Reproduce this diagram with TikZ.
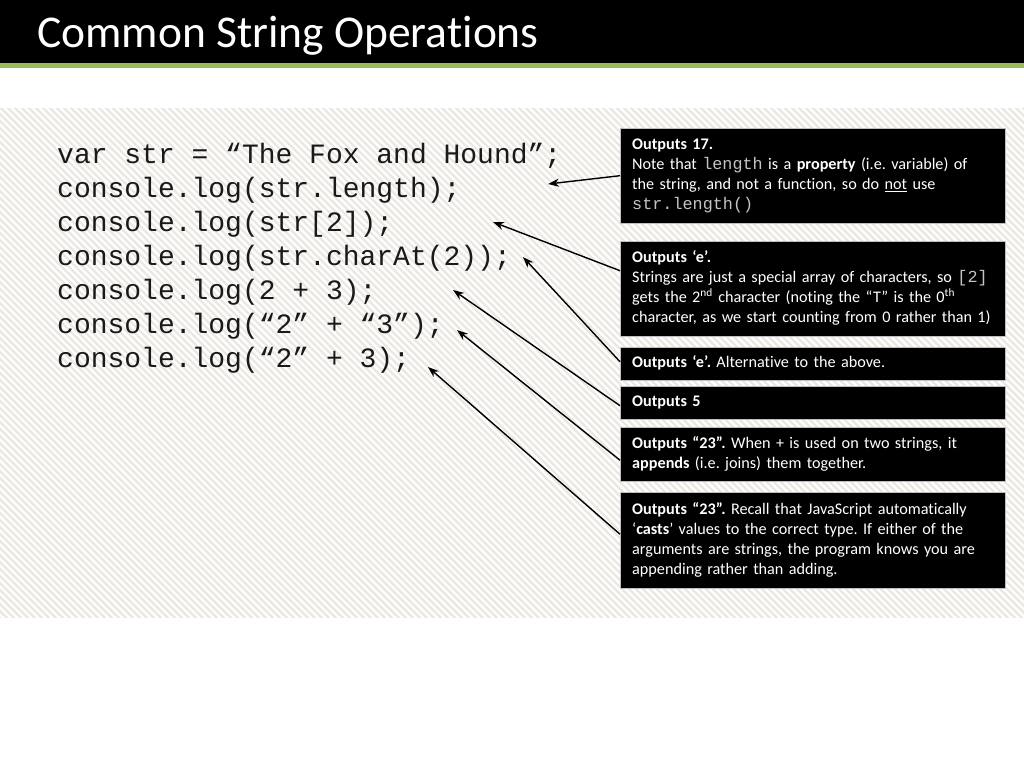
\documentclass[tikz,border=0pt]{standalone}
\usepackage{fontspec}
\setmainfont{Carlito}[Ligatures=CommonOff]
\setmonofont{Liberation Mono}
\usepackage{tikz}
\usetikzlibrary{arrows.meta,calc,positioning}
\frenchspacing

\definecolor{barGreen}{HTML}{9BBB59}
\definecolor{stripeGrey}{HTML}{EAE8E1}
\definecolor{snipGrey}{HTML}{C4C4C4}

\newcommand{\notesize}{\fontsize{16.2}{20}\selectfont}
\newcommand{\snip}[1]{{\ttfamily\fontsize{16.8}{20}\selectfont\color{snipGrey}#1}}

\tikzset{
	codeline/.style={anchor=base west, inner sep=0pt, font=\ttfamily\fontsize{28}{34}\selectfont, text=black!90},
	note/.style={fill=black, draw=black!25, text=white, anchor=north west, text width=361pt, inner xsep=12pt, inner ysep=0pt, align=left, font=\notesize},
	pointer/.style={-{Stealth[length=11pt,width=8pt]}, line width=1.4pt, black}
}

\begin{document}
\begin{tikzpicture}[x=1pt,y=-1pt]
	\useasboundingbox (0,0) rectangle (1024,768);
	\fill[white] (0,0) rectangle (1024,768);
	% title bar
	\fill[black] (0,0) rectangle (1024,63);
	\fill[barGreen] (0,63) rectangle (1024,68);
	\node[anchor=base west, inner sep=0pt, text=white, font=\fontsize{45.5}{50}\selectfont] (title) at (37,48) {Common String Operations};
	% striped panel
	\begin{scope}
		\clip (0,108) rectangle (1024,617);
		\fill[white!97!stripeGrey] (0,108) rectangle (1024,617);
		\foreach \x in {-532,-525,...,1030}
			\draw[stripeGrey, line width=2.4pt] (\x,100) -- ++(530,530);
	\end{scope}
	
	% code
	\node[codeline] (c1) at (57,163) {var str = “The Fox and Hound”;};
	\node[codeline] (c2) at (57,197) {console.log(str.length);};
	\node[codeline] (c3) at (57,231) {console.log(str[2]);};
	\node[codeline] (c4) at (57,265) {console.log(str.charAt(2));};
	\node[codeline] (c5) at (57,299) {console.log(2 + 3);};
	\node[codeline] (c6) at (57,333) {console.log(“2” + “3”);};
	\node[codeline] (c7) at (57,367) {console.log(“2” + 3);};
	
	% notes
	\node[note, minimum height=95pt] (n1) at (620,128) {\strut\textbf{Outputs 17.}\\
		Note that \snip{length} is a \textbf{property} (i.e. variable) of\\
		the string, and not a function, so do \underline{not} use\\
		\snip{str.length()}\strut};
	\node[note, minimum height=95pt] (n2) at (620,241) {\strut\textbf{Outputs ‘e’.}\\
		Strings are just a special array of characters, so \snip{[2]}\\
		gets the 2\textsuperscript{nd} character (noting the “T” is the 0\textsuperscript{th}\\
		character, as we start counting from 0 rather than 1)\strut};
	\node[note, minimum height=33pt] (n3) at (620,347) {\strut\textbf{Outputs ‘e’.} Alternative to the above.};
	\node[note, minimum height=33pt] (n4) at (620,386) {\strut\textbf{Outputs 5}};
	\node[note, minimum height=54pt] (n5) at (620,427) {\strut\textbf{Outputs “23”.} When + is used on two strings, it\\
		\textbf{appends} (i.e. joins) them together.\strut};
	\node[note, minimum height=96pt] (n6) at (620,492) {\strut\textbf{Outputs “23”.} Recall that JavaScript automatically\\
		‘\textbf{casts}’ values to the correct type. If either of the\\
		arguments are strings, the program knows you are\\
		appending rather than adding.\strut};
	
	\coordinate (t1) at (548,184);
	\coordinate (t2) at (493,222);
	\coordinate (t3) at (523,257);
	\coordinate (t4) at (453,290);
	\coordinate (t5) at (457,330);
	\coordinate (t6) at (428,367);
	
	\draw[pointer] (n1.west) -- (t1);
	\draw[pointer] ([yshift=18pt]n2.west) -- (t2);
	\draw[pointer] ([yshift=2pt]n3.west) -- (t3);
	\draw[pointer] ([yshift=-3pt]n4.west) -- (t4);
	\draw[pointer] ([yshift=-6pt]n5.west) -- (t5);
	\draw[pointer] ([yshift=6pt]n6.west) -- (t6);
\end{tikzpicture}
\end{document}
